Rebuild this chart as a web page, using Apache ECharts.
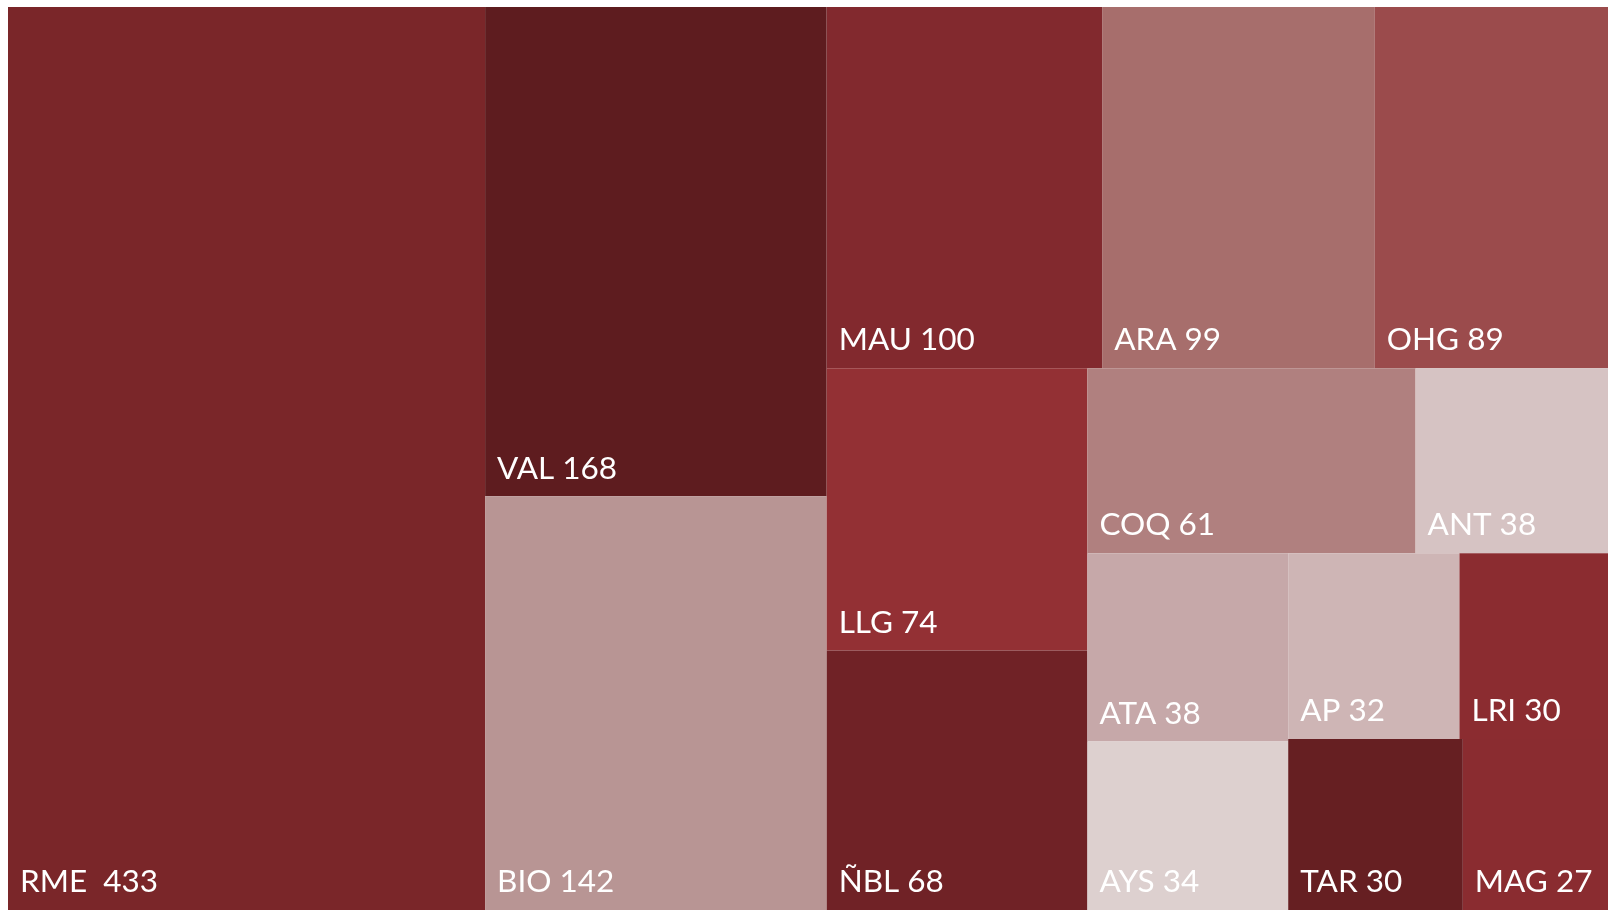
<!DOCTYPE html>
<html>
<head>
<meta charset="utf-8">
<script src="https://cdn.jsdelivr.net/npm/echarts@6/dist/echarts.min.js"></script>
<style>
html,body{margin:0;padding:0;background:#fff;overflow:hidden;}
#c{width:1608px;height:910px;}
</style>
</head>
<body>
<div id="c"></div>
<script>
const names = ['RME', 'VAL', 'BIO', 'MAU', 'ARA', 'OHG', 'LLG', 'ÑBL', 'COQ', 'ANT', 'ATA', 'AYS', 'AP', 'LRI', 'TAR', 'MAG'];
const labels = ['RME  433', 'VAL 168', 'BIO 142', 'MAU 100', 'ARA 99', 'OHG 89', 'LLG 74', 'ÑBL 68', 'COQ 61', 'ANT 38', 'ATA 38', 'AYS 34', 'AP 32', 'LRI 30', 'TAR 30', 'MAG 27'];
const values = [433, 168, 142, 100, 99, 89, 74, 68, 61, 38, 38, 34, 32, 30, 30, 27];
const colors = ['#7a2629', '#5e1c1f', '#b89594', '#82292e', '#a76e6c', '#9b4b4c', '#933034', '#702226', '#b0807f', '#d6c3c3', '#c6a8a9', '#ddd0cf', '#ceb5b5', '#8b2c30', '#661f22', '#8a2c30'];

const data = names.map((n, i) => ({
  name: n,
  value: values[i],
  label: { formatter: labels[i] },
  itemStyle: { color: colors[i] }
}));

const chart = echarts.init(document.getElementById('c'), null, { renderer: 'canvas' });
chart.setOption({
  animation: false,
  series: [{
    type: 'treemap',
    left: 8, top: 7, width: 1612, height: 903,
    roam: false,
    nodeClick: false,
    breadcrumb: { show: false },
    sort: false,
    squareRatio: 0.98,
    visibleMin: 0,
    itemStyle: { borderWidth: 0, gapWidth: 0, borderColor: 'transparent' },
    label: {
      show: true,
      position: 'insideBottomLeft',
      distance: 0,
      padding: [0, 0, 12, 12],
      color: '#fff',
      fontSize: 31.5,
      fontFamily: 'Lato, sans-serif'
    },
    upperLabel: { show: false },
    levels: [{ itemStyle: { borderWidth: 0, gapWidth: 0 } }],
    data: data
  }]
});
</script>
</body>
</html>
